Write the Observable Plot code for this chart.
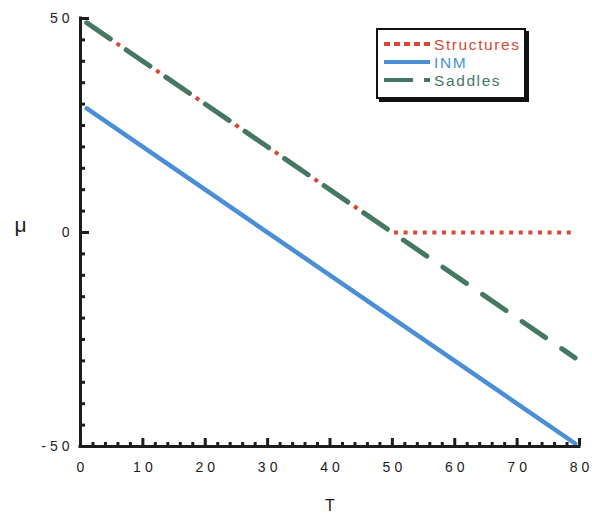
<!DOCTYPE html>
<html><head><meta charset="utf-8">
<script src="https://cdn.jsdelivr.net/npm/d3@7"></script>
<script src="https://cdn.jsdelivr.net/npm/@observablehq/plot@0.6"></script>
<style>
body{margin:0;background:#fff;font-family:"Liberation Sans",Arial,sans-serif}
#wrap{position:relative;width:592px;height:520px}
g[aria-label="x-axis tick label"] text, g[aria-label="y-axis tick label"] text{letter-spacing:4px}
#legend{position:absolute;left:376px;top:28px;width:146px;height:67px;border:2px solid #111;box-shadow:3px 3px 0 #111;background:#fff}
#legend svg{display:block}
#legend text{letter-spacing:1.6px}
</style></head><body><div id="wrap"></div>
<script>
// Data
const T_structures = [1, 50, 79.3];
const mu_structures = [49, 0, 0];
const T_inm = [1, 79.3];
const mu_inm = [29, -49.3];
const T_saddles = [1, 79.3];
const mu_saddles = [49, -29.3];
const seriesNames = ["Structures", "INM", "Saddles"];
const xTickLabels = [0, 10, 20, 30, 40, 50, 60, 70, 80];
const yTickLabels = [-50, 0, 50];
const xMinorTicks = d3.range(2, 80, 2).filter(v => v % 10 !== 0);
const xMajorTicks = [10, 20, 30, 40, 50, 60, 70, 80];
const yMinorTicks = d3.range(-45, 50, 5).filter(v => v !== 0);
const yMajorTicks = [-50, 0, 50];

const colors = {Structures: "#d8472f", INM: "#4a8fd6", Saddles: "#457862"};
const ink = "#1e1c1d";

const W = 592, H = 520, mL = 80, mR = 13, mT = 18, mB = 74;
const fw = W - mL - mR, fh = H - mT - mB;

const toRows = (T, mu) => T.map((t, i) => ({T: t, mu: mu[i]}));
const structures = toRows(T_structures, mu_structures);
const inm = toRows(T_inm, mu_inm);
const saddles = toRows(T_saddles, mu_saddles);

const chart = Plot.plot({
  width: W, height: H,
  marginLeft: mL, marginRight: mR, marginTop: mT, marginBottom: mB,
  style: {background: "#fff", fontFamily: "'Liberation Sans', Arial, sans-serif", color: ink},
  x: {domain: [0, 80]},
  y: {domain: [-50, 50]},
  marks: [
    Plot.axisX({ticks: xTickLabels, tickFormat: d => String(d), tickSize: 0, tickPadding: 16, fontSize: 14, label: null, dx: 2, fill: ink}),
    Plot.axisY({ticks: yTickLabels, tickFormat: d => String(d), tickSize: 0, tickPadding: 7, fontSize: 14, label: null, fill: ink}),
    Plot.text(["T"], {frameAnchor: "bottom", dy: 64, fontSize: 16, fill: ink}),
    Plot.text(["μ"], {frameAnchor: "left", dx: -66, dy: -7, fontSize: 21, fill: ink}),
    // ticks (inward)
    Plot.ruleX(xMinorTicks, {x: d => d, insetTop: fh - 4, stroke: ink, strokeWidth: 3}),
    Plot.ruleX(xMajorTicks, {x: d => d, insetTop: fh - 8, stroke: ink, strokeWidth: 3}),
    Plot.ruleY(yMinorTicks, {y: d => d, insetRight: fw - 5, insetLeft: -1, stroke: ink, strokeWidth: 3}),
    Plot.ruleY(yMajorTicks, {y: d => d, insetRight: fw - 9, insetLeft: -1, stroke: ink, strokeWidth: 3}),
    // series
    Plot.line(inm, {x: "T", y: "mu", stroke: colors.INM, strokeWidth: 4.5}),
    Plot.line(structures, {x: "T", y: "mu", stroke: colors.Structures, strokeWidth: 4, strokeDasharray: "4,5.6", strokeDashoffset: 2.15, strokeLinecap: "butt"}),
    Plot.line(saddles, {x: "T", y: "mu", stroke: colors.Saddles, strokeWidth: 5, strokeDasharray: "28.5,19.5", strokeLinecap: "round"}),
    // axis lines
    Plot.ruleX([0], {x: d => d, stroke: ink, strokeWidth: 3, strokeLinecap: "square"}),
    Plot.ruleY([-50], {y: d => d, stroke: ink, strokeWidth: 3, strokeLinecap: "square"})
  ]
});
const wrap = document.getElementById("wrap");
wrap.appendChild(chart);

// Legend (inside plot area, drawn as overlay)
const dashes = {Structures: "6,4", INM: null, Saddles: "29,11,6"};
const ns = "http://www.w3.org/2000/svg";
const leg = document.createElement("div");
leg.id = "legend";
const ls = document.createElementNS(ns, "svg");
ls.setAttribute("width", 146); ls.setAttribute("height", 67);
seriesNames.forEach((name, i) => {
  const yy = 14 + i * 18;
  const ln = document.createElementNS(ns, "line");
  ln.setAttribute("x1", 6); ln.setAttribute("x2", 52);
  ln.setAttribute("y1", yy); ln.setAttribute("y2", yy);
  ln.setAttribute("stroke", colors[name]);
  ln.setAttribute("stroke-width", 4);
  if (dashes[name]) ln.setAttribute("stroke-dasharray", dashes[name]);
  ls.appendChild(ln);
  const tx = document.createElementNS(ns, "text");
  tx.setAttribute("x", 56); tx.setAttribute("y", yy + 5.5);
  tx.setAttribute("fill", colors[name]);
  tx.setAttribute("font-size", 15.5);
  tx.setAttribute("font-family", "'Liberation Sans', Arial, sans-serif");
  tx.textContent = name;
  ls.appendChild(tx);
});
leg.appendChild(ls);
wrap.appendChild(leg);
</script></body></html>
